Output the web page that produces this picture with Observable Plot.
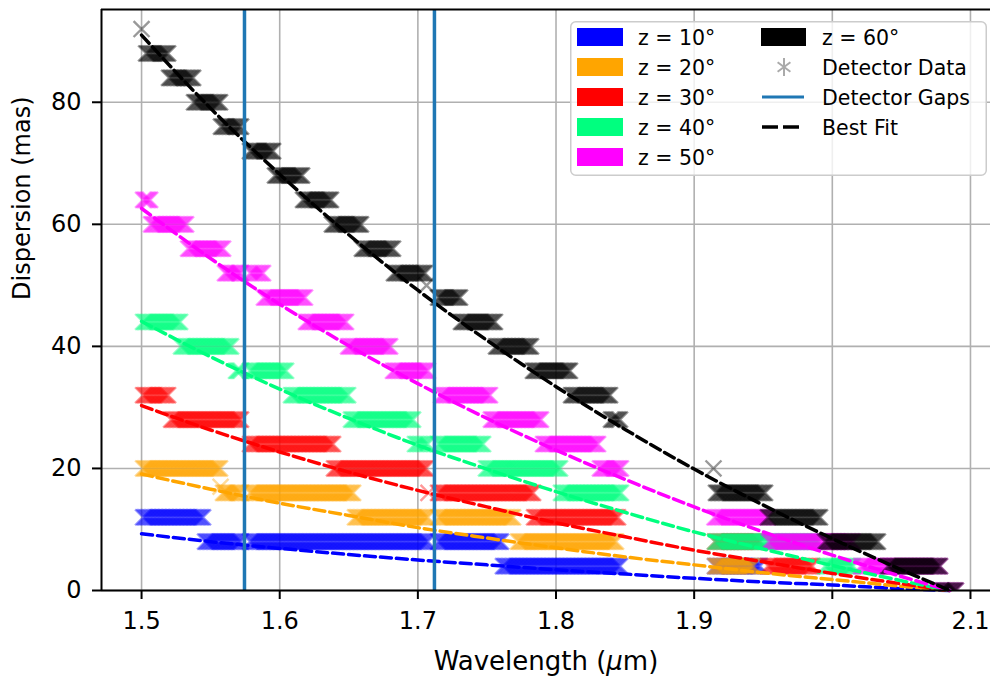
<!DOCTYPE html>
<html>
<head>
<meta charset="utf-8">
<script src="https://cdn.jsdelivr.net/npm/d3@7"></script>
<script src="https://cdn.jsdelivr.net/npm/@observablehq/plot@0.6"></script>
<style>
  body { margin: 0; background: #fff; font-family: "DejaVu Sans", sans-serif; }
  #wrap { position: relative; width: 990px; height: 677px; overflow: hidden; }
  #legend { position: absolute; left: 570px; top: 21px; width: 417px; height: 155px; }
  #legend text { font-family: "DejaVu Sans", sans-serif; font-size: 20.5px; fill: #000; }
</style>
</head>
<body>
<div id="wrap">
  <div id="chart"></div>
  <div id="legend"></div>
</div>
<script>
// ---- Data ----
const seriesNames = ["z = 10°", "z = 20°", "z = 30°", "z = 40°", "z = 50°", "z = 60°"];
const seriesColors = ["#0000ff", "#ffa500", "#ff0000", "#00ff7f", "#ff00ff", "#000000"];

// Detector data: runs of samples at a quantised dispersion [level (mas), first λ, last λ (µm)]
const runs10 = [[12,1.5011,1.5445],[8,1.5460,1.5720],[8,1.5785,1.7073],[8,1.7146,1.7602],[4,1.7616,1.8463],[4,1.9151,1.9476]];
const runs20 = [[20,1.5011,1.5568],[17,1.5572,1.5572],[16,1.5590,1.5720],[16,1.5785,1.6531],[12,1.6545,1.7073],[12,1.7146,1.7689],[8,1.7725,1.8434],[4,1.9151,1.9426]];
const runs30 = [[32,1.5011,1.5192],[28,1.5214,1.5720],[24,1.5785,1.6386],[20,1.6393,1.7059],[16,1.7077,1.7077],[16,1.7146,1.7834],[12,1.7841,1.8449],[8,1.9151,1.9476],[4,1.9534,1.9855]];
const runs40 = [[44,1.5011,1.5279],[40,1.5286,1.5648],[36,1.5684,1.5720],[36,1.5785,1.6046],[32,1.6082,1.6495],[28,1.6516,1.6965],[24,1.6979,1.7073],[24,1.7146,1.7472],[20,1.7493,1.8029],[16,1.8036,1.8470],[8,1.9151,1.9900],[4,1.9947,2.0150]];
const runs50 = [[64,1.5011,1.5062],[60,1.5069,1.5322],[56,1.5337,1.5590],[52,1.5604,1.5720],[52,1.5785,1.5879],[48,1.5886,1.6183],[44,1.6190,1.6480],[40,1.6495,1.6799],[36,1.6820,1.7073],[32,1.7168,1.7522],[28,1.7529,1.7891],[24,1.7906,1.8304],[20,1.8318,1.8470],[12,1.9147,1.9534],[8,1.9541,2.0149],[4,2.0207,2.0779],[0,2.0786,2.0894]];
const runs60 = [[92,1.5000,1.5000],[88,1.5033,1.5192],[84,1.5199,1.5373],[80,1.5380,1.5568],[76,1.5575,1.5720],[72,1.5785,1.5952],[68,1.5966,1.6162],[64,1.6169,1.6371],[60,1.6378,1.6588],[56,1.6595,1.6820],[52,1.6827,1.7052],[50,1.7063,1.7063],[48,1.7146,1.7305],[44,1.7312,1.7558],[40,1.7566,1.7819],[36,1.7833,1.8101],[32,1.8109,1.8391],[28,1.8398,1.8463],[20,1.9140,1.9140],[16,1.9158,1.9513],[12,1.9534,1.9911],[8,1.9947,2.0330],[4,2.0403,2.0779],[0,2.0786,2.0894]];
const sampleStep = 0.001; // detector sampling in µm

// Best-fit curves
const fitWavelengths = [1.50,1.55,1.60,1.65,1.70,1.75,1.80,1.85,1.90,1.95,2.00,2.05,2.085];
const fit10 = [9.3,8.0,6.9,5.9,5.0,4.2,3.4,2.7,2.0,1.4,0.9,0.3,0];
const fit20 = [19.1,16.6,14.3,12.3,10.3,8.6,7.0,5.5,4.2,2.9,1.8,0.7,0];
const fit30 = [30.3,26.3,22.7,19.4,16.4,13.7,11.1,8.8,6.6,4.7,2.8,1.1,0];
const fit40 = [44.1,38.3,33.0,28.2,23.8,19.9,16.2,12.8,9.6,6.8,4.1,1.6,0];
const fit50 = [62.6,54.4,46.9,40.1,33.9,28.2,23.0,18.2,13.7,9.6,5.8,2.3,0];
const fit60 = [91.0,79.0,68.2,58.3,49.2,41.0,33.4,26.4,19.9,14.0,8.5,3.4,0];

const detectorGaps = [1.5745, 1.712];
const xTicks = [1.5, 1.6, 1.7, 1.8, 1.9, 2.0, 2.1];
const yTicks = [0, 20, 40, 60, 80];
const xDomain = [1.471, 2.1145];
const yDomain = [0, 95.2];

// ---- Build tables ----
const allRuns = [runs10, runs20, runs30, runs40, runs50, runs60];
const allFits = [fit10, fit20, fit30, fit40, fit50, fit60];
const points = [];
allRuns.forEach((runs, k) => {
  for (const [lvl, a, b] of runs) {
    const n = Math.max(0, Math.round((b - a) / sampleStep));
    for (let i = 0; i <= n; i++) points.push({series: seriesNames[k], wl: n ? a + (b - a) * i / n : a, disp: lvl});
  }
});
const fits = [];
allFits.forEach((f, k) => f.forEach((v, i) => fits.push({series: seriesNames[k], wl: fitWavelengths[i], disp: v})));

const chart = Plot.plot({
  width: 990, height: 677,
  marginLeft: 101, marginRight: 0, marginTop: 9, marginBottom: 87,
  x: {domain: xDomain},
  y: {domain: yDomain},
  color: {domain: seriesNames, range: seriesColors},
  style: {fontFamily: "DejaVu Sans, sans-serif", fontSize: "24px", background: "white", color: "black", overflow: "visible"},
  marks: [
    Plot.gridX(xTicks, {stroke: "#b0b0b0", strokeOpacity: 1, strokeWidth: 1.6}),
    Plot.gridY(yTicks, {stroke: "#b0b0b0", strokeOpacity: 1, strokeWidth: 1.6}),
    Plot.dot(points, {x: "wl", y: "disp", stroke: "series", symbol: "times", r: 7.3, strokeWidth: 2.4, strokeOpacity: 0.4, clip: true}),
    Plot.line(fits, {x: "wl", y: "disp", z: "series", stroke: "series", strokeWidth: 3.5, strokeDasharray: "11,5", curve: "monotone-x"}),
    Plot.ruleX(detectorGaps, {stroke: "#1f77b4", strokeWidth: 3.5}),
    Plot.ruleY([yDomain[0]], {stroke: "black", strokeWidth: 2}),
    Plot.ruleY([yDomain[1]], {stroke: "black", strokeWidth: 2}),
    Plot.ruleX([xDomain[0]], {stroke: "black", strokeWidth: 2}),
    Plot.axisX(xTicks, {tickFormat: d => d.toFixed(1), tickSize: 9, tickPadding: 12, strokeWidth: 2, fontSize: 24, label: null}),
    Plot.axisY(yTicks, {tickSize: 9, tickPadding: 11, strokeWidth: 2, fontSize: 24, label: null}),
    Plot.text(["Dispersion (mas)"], {frameAnchor: "left", rotate: -90, dx: -79, fontSize: 24}),
    Plot.text(["Wavelength (μm)"], {frameAnchor: "bottom", dy: 79, fontSize: 26})
  ]
});
document.getElementById("chart").appendChild(chart);

// italic µ as in matplotlib mathtext
d3.select(chart).selectAll("text").filter(function () { return this.textContent === "Wavelength (μm)"; })
  .each(function () {
    const t = d3.select(this);
    t.text(null);
    t.append("tspan").text("Wavelength (");
    t.append("tspan").attr("font-style", "italic").text("μ");
    t.append("tspan").text("m)");
  });

// ---- Legend ----
const lg = d3.select("#legend").append("svg").attr("width", 417).attr("height", 155);
lg.append("rect").attr("x", 0.75).attr("y", 0.75).attr("width", 415.5).attr("height", 153.5)
  .attr("rx", 5).attr("fill", "white").attr("fill-opacity", 0.8).attr("stroke", "#cccccc").attr("stroke-width", 1.5);
const rowY = [16, 46, 76, 106, 136];
for (let i = 0; i < 5; i++) {
  lg.append("rect").attr("x", 7).attr("y", rowY[i] - 9).attr("width", 46).attr("height", 18).attr("fill", seriesColors[i]);
  lg.append("text").attr("x", 68).attr("y", rowY[i] + 7.5).text(seriesNames[i]);
}
lg.append("rect").attr("x", 191).attr("y", rowY[0] - 9).attr("width", 45).attr("height", 18).attr("fill", seriesColors[5]);
lg.append("text").attr("x", 252).attr("y", rowY[0] + 7.5).text(seriesNames[5]);
const ax = 214, ay = rowY[1], ar = 8;
lg.append("path").attr("d", `M${ax},${ay - ar - 1}V${ay + ar + 1}M${ax - ar * 0.8},${ay - ar * 0.6}L${ax + ar * 0.8},${ay + ar * 0.6}M${ax - ar * 0.8},${ay + ar * 0.6}L${ax + ar * 0.8},${ay - ar * 0.6}`)
  .attr("stroke", "#aaaaaa").attr("stroke-width", 2).attr("fill", "none");
lg.append("text").attr("x", 252).attr("y", rowY[1] + 7.5).text("Detector Data");
lg.append("line").attr("x1", 192).attr("x2", 234).attr("y1", rowY[2]).attr("y2", rowY[2]).attr("stroke", "#1f77b4").attr("stroke-width", 3);
lg.append("text").attr("x", 252).attr("y", rowY[2] + 7.5).text("Detector Gaps");
lg.append("line").attr("x1", 192).attr("x2", 229).attr("y1", rowY[3]).attr("y2", rowY[3]).attr("stroke", "black").attr("stroke-width", 3.5).attr("stroke-dasharray", "16,5");
lg.append("text").attr("x", 252).attr("y", rowY[3] + 7.5).text("Best Fit");
</script>
</body>
</html>
